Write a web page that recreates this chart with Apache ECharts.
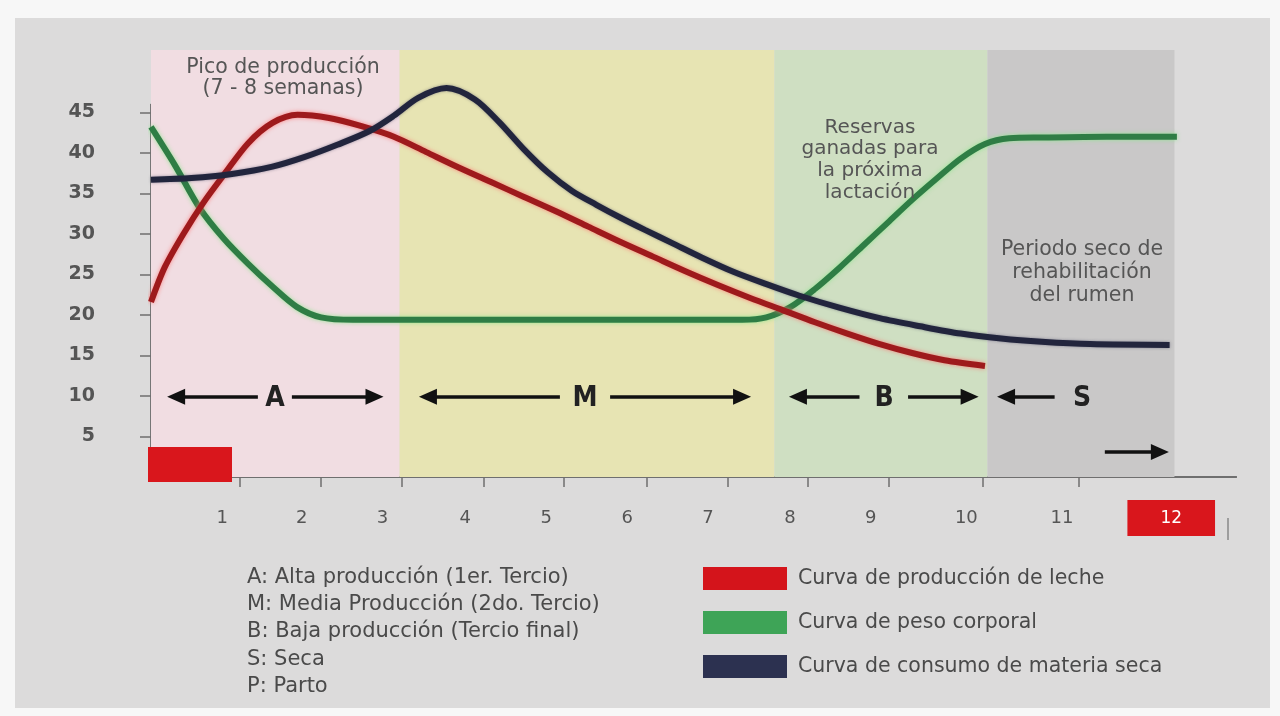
<!DOCTYPE html>
<html>
<head>
<meta charset="utf-8">
<script src="https://cdn.jsdelivr.net/npm/echarts@6/dist/echarts.min.js"></script>
<style>
html,body{margin:0;padding:0;background:#f7f7f7;}
#chart{width:1280px;height:716px;}
</style>
</head>
<body>
<div id="chart"></div>
<script>
// ---- data (x: position along lactation axis, y: value) ----
const xLabelText = ['1','2','3','4','5','6','7','8','9','10','11','12'];
const xLabelPos  = [0.88,1.86,2.86,3.88,4.88,5.88,6.88,7.89,8.89,10.07,11.25,12.6];
const xTickPos   = [1.10,2.10,3.10,4.11,5.10,6.12,7.12,8.11,9.11,10.27,11.46];
const yTickVals  = [5,10,15,20,25,30,35,40,45];

const milkCurve = [[0,21.6],[0.17,25.9],[0.4,30.0],[0.65,33.9],[0.9,37.3],[1.2,41.2],[1.5,43.7],[1.81,44.7],[2.2,44.3],[2.6,43.3],[3.0,42.0],[3.4,40.1],[3.8,38.2],[4.2,36.4],[4.6,34.6],[5.0,32.8],[5.4,30.9],[5.8,29.0],[6.2,27.2],[6.6,25.4],[7.0,23.7],[7.4,22.1],[7.8,20.6],[8.2,19.1],[8.6,17.7],[9.0,16.4],[9.4,15.3],[9.8,14.4],[10.3,13.7]];
const weightCurve = [[0,43.2],[0.3,38.4],[0.6,33.2],[0.9,29.4],[1.2,26.3],[1.5,23.5],[1.8,21.0],[2.1,19.7],[2.5,19.4],[3.0,19.4],[3.5,19.4],[4.0,19.4],[4.5,19.4],[5.0,19.4],[5.5,19.4],[6.0,19.4],[6.5,19.4],[7.0,19.4],[7.3,19.4],[7.6,19.7],[7.9,21.0],[8.2,23.2],[8.5,25.8],[8.8,28.6],[9.1,31.4],[9.4,34.2],[9.7,36.8],[10.0,39.3],[10.3,41.1],[10.6,41.8],[11.0,41.9],[11.8,42.0],[12.67,42.0]];
const intakeCurve = [[0,36.7],[0.5,36.9],[1.0,37.4],[1.5,38.3],[1.9,39.5],[2.3,41.0],[2.7,42.7],[3.0,44.6],[3.3,46.8],[3.65,48.0],[4.0,46.6],[4.3,43.8],[4.6,40.5],[4.9,37.6],[5.2,35.3],[5.5,33.6],[5.8,32.0],[6.1,30.5],[6.45,28.8],[6.8,27.1],[7.2,25.3],[7.6,23.8],[8.0,22.4],[8.5,20.9],[9.0,19.6],[9.5,18.6],[10.0,17.7],[10.5,17.1],[11.0,16.7],[11.6,16.4],[12.58,16.3]];

const seriesNames = ['Curva de producción de leche','Curva de peso corporal','Curva de consumo de materia seca'];
const phaseBounds = [0, 3.07, 7.70, 10.33, 12.64];
const phaseLetters = ['A','M','B','S'];
// arrow segments: [from, to(tip), y]
const phaseArrows = [[1.32,0.31,9.9],[1.74,2.76,9.9],[5.05,3.42,9.9],[5.67,7.30,9.9],[8.75,7.99,9.9],[9.35,10.11,9.9],[11.16,10.56,9.9],[11.78,12.46,3.1]];
const notesLeft = ['A: Alta producción (1er. Tercio)','M: Media Producción (2do. Tercio)','B: Baja producción (Tercio final)','S: Seca','P: Parto'];

const FONT = 'DejaVu Sans';
const bandColors = ['#f1dde2','#e7e4b3','#cfdfc2','#c9c8c8'];

const chart = echarts.init(document.getElementById('chart'));

const bandData = [];
for (let i = 0; i < phaseBounds.length - 1; i++) {
  bandData.push([{xAxis: phaseBounds[i], yAxis: 0, itemStyle: {color: bandColors[i]}}, {xAxis: phaseBounds[i+1], yAxis: 52.7}]);
}
const arrowData = phaseArrows.map(a => [{coord: [a[0], a[2]]}, {coord: [a[1], a[2]]}]);

function nearestIdx(arr, v) {
  let b = 0;
  for (let i = 1; i < arr.length; i++) if (Math.abs(arr[i] - v) < Math.abs(arr[b] - v)) b = i;
  return b;
}

const option = {
  backgroundColor: '#f7f7f7',
  animation: false,
  grid: [
    {left: 151, right: 44, top: 50, bottom: 239},
    {left: 151, right: 44, top: 104.4, bottom: 239}
  ],
  xAxis: [
    {gridIndex: 0, type: 'value', min: 0, max: 13.4,
     axisLine: {show: true, lineStyle: {color: '#6f6f6f', width: 2}},
     axisTick: {show: true, customValues: xTickPos, length: 10, inside: false, lineStyle: {color: '#6f6f6f', width: 1.5}},
     axisLabel: {show: true, customValues: xLabelPos, margin: 41, verticalAlign: 'middle',
       fontFamily: FONT, fontSize: 18, color: '#555',
       formatter: function (v) {
         const i = nearestIdx(xLabelPos, v);
         return i === xLabelText.length - 1 ? '{box|' + xLabelText[i] + '}' : xLabelText[i];
       },
       rich: {box: {backgroundColor: '#d9161c', color: '#fff', fontFamily: FONT, fontSize: 17, padding: [10, 33, 9, 33]}}
     },
     splitLine: {show: false}},
    {gridIndex: 1, type: 'value', min: 0, max: 13.4,
     axisLine: {show: true, lineStyle: {color: '#6f6f6f', width: 2}},
     axisTick: {show: true, customValues: xTickPos, length: 10, inside: true, lineStyle: {color: '#6f6f6f', width: 1.5}},
     axisLabel: {show: false}, splitLine: {show: false}}
  ],
  yAxis: [
    {gridIndex: 0, type: 'value', min: 0, max: 52.7, show: false},
    {gridIndex: 1, type: 'value', position: 'left', min: 0, max: 46,
     axisLine: {show: true, lineStyle: {color: '#6f6f6f', width: 1.5}},
     axisTick: {show: true, customValues: yTickVals, length: 11, inside: false, lineStyle: {color: '#6f6f6f', width: 1.5}},
     axisLabel: {show: true, customValues: yTickVals, margin: 56, fontFamily: FONT, fontWeight: 'bold', fontSize: 19, color: '#555'},
     splitLine: {show: false}},
    {gridIndex: 1, type: 'value', position: 'left', offset: 0, min: 0, max: 46,
     axisLine: {show: true, lineStyle: {color: '#6f6f6f', width: 1.5}},
     axisTick: {show: true, customValues: yTickVals, length: 11, inside: true, lineStyle: {color: '#6f6f6f', width: 1.5}},
     axisLabel: {show: false}, splitLine: {show: false}}
  ],
  legend: {
    orient: 'vertical', left: 703, top: 567, padding: 0, itemWidth: 84, itemHeight: 23, itemGap: 21,
    icon: 'rect', selectedMode: false,
    textStyle: {fontFamily: FONT, fontSize: 20.5, color: '#4a4a4a', padding: [0, 0, 0, 6]},
    data: [
      {name: seriesNames[0], itemStyle: {color: '#d4141b'}},
      {name: seriesNames[1], itemStyle: {color: '#3ea457'}},
      {name: seriesNames[2], itemStyle: {color: '#2c3150'}}
    ]
  },
  series: [
    {name: seriesNames[0], type: 'line', xAxisIndex: 0, yAxisIndex: 0, data: milkCurve, smooth: 0.3, showSymbol: false, z: 4,
     itemStyle: {color: '#d4141b'},
     lineStyle: {color: '#9e1a1c', width: 6, shadowColor: 'rgba(255,110,110,0.8)', shadowBlur: 4},
     markArea: {silent: true, data: bandData}},
    {name: seriesNames[1], type: 'line', xAxisIndex: 0, yAxisIndex: 0, data: weightCurve, smooth: 0.3, showSymbol: false, z: 3,
     itemStyle: {color: '#3ea457'},
     lineStyle: {color: '#2f7d45', width: 6, shadowColor: 'rgba(140,230,140,0.9)', shadowBlur: 4}},
    {name: seriesNames[2], type: 'line', xAxisIndex: 0, yAxisIndex: 0, data: intakeCurve, smooth: 0.3, showSymbol: false, z: 5,
     itemStyle: {color: '#2c3150'},
     lineStyle: {color: '#22253d', width: 6, shadowColor: 'rgba(60,60,90,0.5)', shadowBlur: 3}},
    {name: 'arrows', type: 'line', xAxisIndex: 0, yAxisIndex: 0, data: [], z: 6,
     markLine: {silent: true, symbol: ['none', 'triangle'], symbolSize: [16, 18], label: {show: false},
       lineStyle: {color: '#111', width: 3.5, type: 'solid'}, data: arrowData}}
  ],
  graphic: [
    {type: 'rect', z: -10, shape: {x: 15, y: 18, width: 1255, height: 690}, style: {fill: '#dcdbdb'}},
    {type: 'text', z: 50, x: 283, y: 78, style: {text: 'Pico de producción\n(7 - 8 semanas)', fontFamily: FONT, fontSize: 20.5, lineHeight: 21, fill: '#555', align: 'center', verticalAlign: 'middle'}},
    {type: 'text', z: 50, x: 870, y: 160, style: {text: 'Reservas\nganadas para\nla próxima\nlactación', fontFamily: FONT, fontSize: 20, lineHeight: 21.7, fill: '#555', align: 'center', verticalAlign: 'middle'}},
    {type: 'text', z: 50, x: 1082, y: 273, style: {text: 'Periodo seco de\nrehabilitación\ndel rumen', fontFamily: FONT, fontSize: 20.5, lineHeight: 23, fill: '#555', align: 'center', verticalAlign: 'middle'}},
    {type: 'text', z: 50, x: 275, y: 399, style: {text: phaseLetters[0], fontFamily: 'DejaVu Sans Condensed', fontWeight: 'bold', fontSize: 28, fill: '#222', align: 'center', verticalAlign: 'middle'}},
    {type: 'text', z: 50, x: 585, y: 399, style: {text: phaseLetters[1], fontFamily: 'DejaVu Sans Condensed', fontWeight: 'bold', fontSize: 28, fill: '#222', align: 'center', verticalAlign: 'middle'}},
    {type: 'text', z: 50, x: 884, y: 399, style: {text: phaseLetters[2], fontFamily: 'DejaVu Sans Condensed', fontWeight: 'bold', fontSize: 28, fill: '#222', align: 'center', verticalAlign: 'middle'}},
    {type: 'text', z: 50, x: 1082, y: 399, style: {text: phaseLetters[3], fontFamily: 'DejaVu Sans Condensed', fontWeight: 'bold', fontSize: 28, fill: '#222', align: 'center', verticalAlign: 'middle'}},
    {type: 'text', z: 50, x: 247, y: 632, style: {text: notesLeft.join('\n'), fontFamily: FONT, fontSize: 21, lineHeight: 27.3, fill: '#4a4a4a', align: 'left', verticalAlign: 'middle'}},
    {type: 'rect', z: 100, shape: {x: 148, y: 447, width: 84, height: 35}, style: {fill: '#d9161c'}},
    {type: 'line', z: 50, shape: {x1: 1228, y1: 518, x2: 1228, y2: 540}, style: {stroke: '#888', lineWidth: 1.5}}
  ]
};
chart.setOption(option);
</script>
</body>
</html>
